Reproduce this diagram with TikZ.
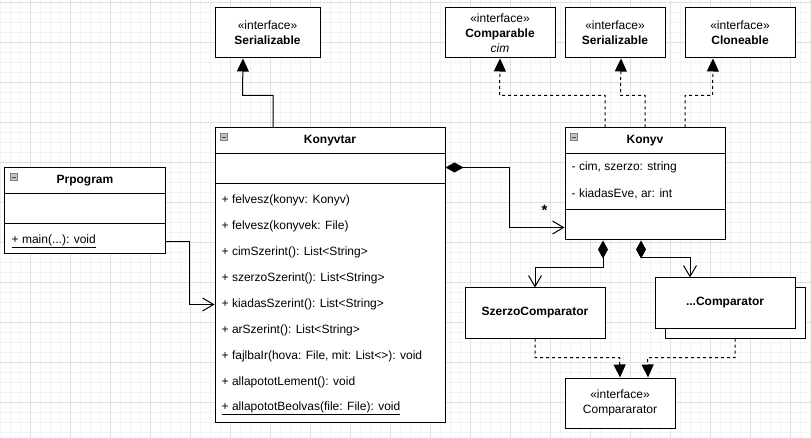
\documentclass[tikz,border=0pt]{standalone}
\usepackage{fontspec}
\setmainfont{Liberation Sans}
\usetikzlibrary{arrows.meta,calc}
\definecolor{gridmajor}{HTML}{E0E0E0}
\definecolor{gridminor}{HTML}{F3F3F3}
\definecolor{iconfill}{HTML}{C4C4C4}
\newcommand{\CollapseIcon}[1]{
\draw[icon] ([xshift=6pt,yshift=-6pt]#1.north west) rectangle ([xshift=13pt,yshift=-13pt]#1.north west);
\draw[line width=.8pt, black!75] ([xshift=7.5pt,yshift=-9.5pt]#1.north west) -- ([xshift=11.5pt,yshift=-9.5pt]#1.north west);
}
\newcommand{\ClassLines}[3]{ % box, header height, attribute bottom
\draw[umlline] ([yshift=-#2 pt]#1.north west) -- ([yshift=-#2 pt]#1.north east);
\draw[umlline] ([yshift=-#3 pt]#1.north west) -- ([yshift=-#3 pt]#1.north east);
}

\begin{document}
\begin{tikzpicture}[x=1pt, y=-1pt,
classbox/.style={draw, fill=white, line width=1pt, inner sep=0, anchor=north west},
ibox/.style={draw, fill=white, line width=1pt, inner sep=0, anchor=north west, align=center, font=\fontsize{12}{15}\selectfont},
member/.style={inner sep=0, anchor=west, font=\fontsize{12}{14}\selectfont},
classname/.style={inner sep=0, font=\bfseries\fontsize{12}{14}\selectfont},
umlline/.style={line width=1pt},
realize/.style={line width=1pt, dash pattern=on 3pt off 3pt, -{Triangle[length=13pt,width=12pt]}},
inherit/.style={line width=1pt, -{Triangle[length=13pt,width=12pt]}},
assoc/.style={line width=1pt, -{Straight Barb[length=11pt,width=13pt]}},
compos/.style={line width=1pt, {Diamond[length=18pt,width=10pt]}-{Straight Barb[length=11pt,width=13pt]}},
icon/.style={draw=gray, fill=iconfill, line width=.6pt},
minorgrid/.style={gridminor, line width=1pt},
majorgrid/.style={gridmajor, line width=1pt},
]
\useasboundingbox (-0.5,-0.5) rectangle (810.5,437.5); % half pixel shift: crisp lines

%%%%%%%%%%%%%%%%%%%%%%%% GRID %%%%%%%%%%%%%%%%%%%%%%%%
\foreach \gx in {0,10,...,810} \draw[minorgrid] (\gx,-0.5) -- (\gx,437.5);
\foreach \gy in {2,12,...,432} \draw[minorgrid] (-0.5,\gy) -- (810.5,\gy);
\foreach \gx in {30,70,...,790} \draw[majorgrid] (\gx,-0.5) -- (\gx,437.5);
\foreach \gy in {2,42,...,402} \draw[majorgrid] (-0.5,\gy) -- (810.5,\gy);

%%%%%%%%%%%%%%%%%%%%%%%% INTERFACES %%%%%%%%%%%%%%%%%%%%%%%%
\node[ibox, minimum width=105pt, minimum height=50pt] (SerialA) at (214,7) {«interface»\\\textbf{Serializable}};
\node[ibox, minimum width=110pt, minimum height=50pt] (Compable) at (444,7) {«interface»\\\textbf{Comparable}\\\textit{cim}};
\node[ibox, minimum width=100pt, minimum height=50pt] (SerialB) at (564,7) {«interface»\\\textbf{Serializable}};
\node[ibox, minimum width=110pt, minimum height=50pt] (Clone) at (684,7) {«interface»\\\textbf{Cloneable}};
\node[ibox, minimum width=110pt, minimum height=50pt] (Comparator) at (564,377) {«interface»\\Compararator};

%%%%%%%%%%%%%%%%%%%%%%%% CLASSES %%%%%%%%%%%%%%%%%%%%%%%%
\node[classbox, minimum width=160pt, minimum height=86pt] (Prpogram) at (4,167) {};
\ClassLines{Prpogram}{26}{56}
\CollapseIcon{Prpogram}
\node[classname] (PrpogramName) at ($(Prpogram.north)+(0,13)$) {Prpogram};
\node[member] (PrMain) at (11,241) {\underline{+ main(...): void}};

\node[classbox, minimum width=230pt, minimum height=294pt] (Konyvtar) at (214,127) {};
\ClassLines{Konyvtar}{26}{56}
\CollapseIcon{Konyvtar}
\node[classname] (KonyvtarName) at ($(Konyvtar.north)+(0,13)$) {Konyvtar};
\node[member] (KtA) at (221,200) {+ felvesz(konyv: Konyv)};
\node[member] (KtB) at (221,226) {+ felvesz(konyvek: File)};
\node[member] (KtC) at (221,252) {+ cimSzerint(): List<String>};
\node[member] (KtD) at (221,278) {+ szerzoSzerint(): List<String>};
\node[member] (KtE) at (221,304) {+ kiadasSzerint(): List<String>};
\node[member] (KtF) at (221,330) {+ arSzerint(): List<String>};
\node[member] (KtG) at (221,356) {+ fajlbaIr(hova: File, mit: List<>): void};
\node[member] (KtH) at (221,382) {+ allapototLement(): void};
\node[member] (KtI) at (221,408) {\underline{+ allapototBeolvas(file: File): void}};

\node[classbox, minimum width=160pt, minimum height=112pt] (Konyv) at (564,127) {};
\ClassLines{Konyv}{26}{82}
\CollapseIcon{Konyv}
\node[classname] (KonyvName) at ($(Konyv.north)+(0,13)$) {Konyv};
\node[member] (KvA) at (571,167) {- cim, szerzo: string};
\node[member] (KvB) at (571,193) {- kiadasEve, ar: int};

\node[classbox, minimum width=140pt, minimum height=50pt] (SzerzoCmp) at (464,287) {};
\node[classname] (SzerzoCmpName) at (SzerzoCmp.center) {SzerzoComparator};
\node[classbox, minimum width=140pt, minimum height=50pt] (OtherCmpBack) at (664,287) {};
\node[classbox, minimum width=140pt, minimum height=50pt] (OtherCmp) at (654,277) {};
\node[classname] (OtherCmpName) at (OtherCmp.center) {...Comparator};

%%%%%%%%%%%%%%%%%%%%%%%% CONNECTORS %%%%%%%%%%%%%%%%%%%%%%%%
\draw[inherit] ([xshift=-57pt]Konyvtar.north) |- (242,95) -- ([xshift=-24.5pt]SerialA.south);
\draw[realize] ([xshift=-40pt]Konyv.north) |- (499,95) -- (Compable.south);
\draw[realize] (Konyv.north) |- (620,95) -- ([xshift=6pt]SerialB.south);
\draw[realize] ([xshift=40pt]Konyv.north) |- (712,95) -- ([xshift=-27pt]Clone.south);

\draw[compos] ([yshift=-40pt]Konyvtar.north east) -| (509,227) -- ([yshift=-100pt]Konyv.north west);
\node[inner sep=0, font=\bfseries\fontsize{15}{16}\selectfont] (Many) at (544,210) {*};
\draw[assoc] ([yshift=-74pt]Prpogram.north east) -| (189,304) -- ([yshift=-177pt]Konyvtar.north west);

\draw[compos] ([xshift=-42pt]Konyv.south) |- ($(SzerzoCmp.north)+(0,-20)$) -- (SzerzoCmp.north);
\draw[compos] ([xshift=-4pt]Konyv.south) |- ($([xshift=-35pt]OtherCmp.north)+(0,-20)$) -- ([xshift=-35pt]OtherCmp.north);

\draw[realize] (SzerzoCmp.south) |- (619,357) -- (Comparator.north);
\draw[realize] (OtherCmpBack.south) |- (647,357) -- ([xshift=28pt]Comparator.north);
\end{tikzpicture}
\end{document}
